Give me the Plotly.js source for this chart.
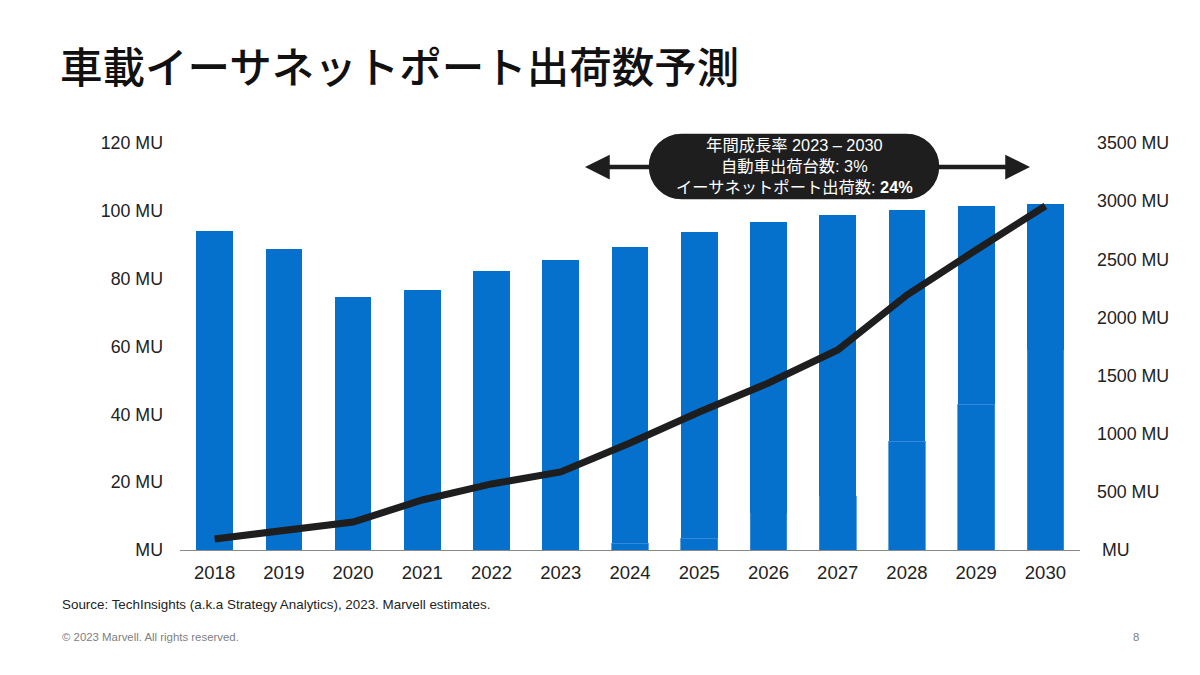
<!DOCTYPE html>
<html>
<head>
<meta charset="utf-8">
<script src="https://cdn.plot.ly/plotly-3.0.1.min.js"></script>
<style>
  html, body { margin: 0; padding: 0; background: #ffffff; }
  #chart { width: 1200px; height: 675px; }
</style>
</head>
<body>
<div id="chart"></div>
<script>
// ---- data ----
const years = ["2018","2019","2020","2021","2022","2023","2024","2025","2026","2027","2028","2029","2030"];
// vehicle shipments (left axis, MU) – lower stacked segment and remainder
const vehiclesLower = [0, 0, 0, 0, 0, 0, 2, 3.5, 11, 16, 32, 43, 59];
const vehiclesTotal = [94, 88.7, 74.6, 76.7, 82.3, 85.5, 89.3, 93.8, 96.7, 98.8, 100.2, 101.4, 102];
// ethernet port shipments (right axis, MU)
const ethernetPorts = [95, 163, 241, 430, 568, 671, 920, 1187, 1436, 1720, 2193, 2580, 2958];

const leftTickVals = [0, 20, 40, 60, 80, 100, 120];
const leftTickText = ["MU", "20 MU", "40 MU", "60 MU", "80 MU", "100 MU", "120 MU"];
const rightTickVals = [0, 500, 1000, 1500, 2000, 2500, 3000, 3500];
const rightTickText = [" MU", "500 MU", "1000 MU", "1500 MU", "2000 MU", "2500 MU", "3000 MU", "3500 MU"];

const titleText = "車載イーサネットポート出荷数予測";
const calloutText = "年間成長率 2023 – 2030<br>自動車出荷台数: 3%<br>イーサネットポート出荷数: <b>24%</b>";
const sourceText = "Source: TechInsights (a.k.a Strategy Analytics), 2023. Marvell estimates.";
const copyrightText = "© 2023 Marvell. All rights reserved.";
const pageText = "8";

// ---- styling ----
const BAR = "#0670CD";
const SEG = "#3F8FDB";
const LINE = "#1E1E1E";
const FONT = "Liberation Sans, Arial, Noto Sans CJK JP, sans-serif";
const JFONT = "Noto Sans CJK JP, Liberation Sans, sans-serif";

const vehiclesUpper = vehiclesTotal.map((v, i) => v - vehiclesLower[i]);

const traces = [
  { type: "bar", x: years, y: vehiclesLower, yaxis: "y", marker: { color: BAR, line: { color: SEG, width: 0.8 } }, hoverinfo: "skip" },
  { type: "bar", x: years, y: vehiclesUpper, yaxis: "y", marker: { color: BAR, line: { color: BAR, width: 0 } } },
  { type: "scatter", mode: "lines", x: years, y: ethernetPorts, yaxis: "y2",
    line: { color: LINE, width: 7, shape: "linear" } }
];

// pill shape geometry (paper coords)
const L = 180, R = 1080, T = 143, B = 550;
const px = v => (v - L) / (R - L);
const py = v => (B - v) / (B - T);
const x0 = px(648), x1 = px(940), yt = py(133), yb = py(200), ym = (yt + yb) / 2;
const rx = 33.5 / (R - L), ry = (yt - yb) / 2, k = 0.5523;
const pillPath =
  `M ${x0 + rx} ${yt} L ${x1 - rx} ${yt} ` +
  `C ${x1 - rx + k * rx} ${yt} ${x1} ${ym + k * ry} ${x1} ${ym} ` +
  `C ${x1} ${ym - k * ry} ${x1 - rx + k * rx} ${yb} ${x1 - rx} ${yb} ` +
  `L ${x0 + rx} ${yb} ` +
  `C ${x0 + rx - k * rx} ${yb} ${x0} ${ym - k * ry} ${x0} ${ym} ` +
  `C ${x0} ${ym + k * ry} ${x0 + rx - k * rx} ${yt} ${x0 + rx} ${yt} Z`;

const layout = {
  width: 1200, height: 675,
  paper_bgcolor: "#ffffff", plot_bgcolor: "#ffffff",
  margin: { l: L, r: 1200 - R, t: T, b: 675 - B, pad: 0 },
  barmode: "stack", bargap: 0.47,
  showlegend: false,
  font: { family: FONT, color: "#222222", size: 17 },
  title: {
    text: titleText, xref: "container", yref: "container",
    x: 0.05, xanchor: "left", y: 1 - 68 / 675, yanchor: "middle",
    font: { family: JFONT, size: 42.5, weight: 500, color: "#111111" }
  },
  xaxis: {
    type: "category", showgrid: false, zeroline: false,
    showline: true, linecolor: "#8a8a8a", linewidth: 1.2,
    ticks: "", tickfont: { size: 18.5, color: "#222222" }, ticklabelstandoff: 6
  },
  yaxis: {
    range: [0, 120], showgrid: false, zeroline: false, showline: false,
    tickvals: leftTickVals, ticktext: leftTickText, ticks: "",
    tickfont: { size: 17.8, color: "#222222" }, ticklabelstandoff: 16
  },
  yaxis2: {
    range: [0, 3500], overlaying: "y", side: "right",
    showgrid: false, zeroline: false, showline: false,
    tickvals: rightTickVals, ticktext: rightTickText, ticks: "",
    tickfont: { size: 17.8, color: "#222222" }, ticklabelstandoff: 16
  },
  shapes: [
    { type: "path", xref: "paper", yref: "paper", path: pillPath,
      fillcolor: "#1E1E1E", line: { color: "#ffffff", width: 1.5 }, layer: "above" }
  ],
  annotations: [
    { xref: "paper", yref: "paper", x: px(585), y: py(167), ax: 70, ay: 0,
      showarrow: true, arrowhead: 2, arrowsize: 1.1, arrowwidth: 4.5, arrowcolor: "#1E1E1E", text: "" },
    { xref: "paper", yref: "paper", x: px(1030), y: py(167), ax: -100, ay: 0,
      showarrow: true, arrowhead: 2, arrowsize: 1.1, arrowwidth: 4.5, arrowcolor: "#1E1E1E", text: "" },
    { xref: "paper", yref: "paper", x: px(794), y: py(166), xanchor: "center", yanchor: "middle",
      showarrow: false, text: calloutText, align: "center",
      font: { family: FONT, size: 16.3, color: "#ffffff" } },
    { xref: "paper", yref: "paper", x: -0.133, y: py(604), xanchor: "left", yanchor: "middle",
      showarrow: false, text: sourceText, font: { size: 13.4, color: "#222222" } },
    { xref: "paper", yref: "paper", x: -0.133, y: py(637), xanchor: "left", yanchor: "middle",
      showarrow: false, text: copyrightText, font: { size: 11.4, color: "#808080" } },
    { xref: "paper", yref: "paper", x: px(1141), y: py(637), xanchor: "right", yanchor: "middle",
      showarrow: false, text: pageText, font: { size: 11.4, color: "#808080" } }
  ]
};

Plotly.newPlot("chart", traces, layout, { displayModeBar: false, staticPlot: true });
</script>
</body>
</html>
